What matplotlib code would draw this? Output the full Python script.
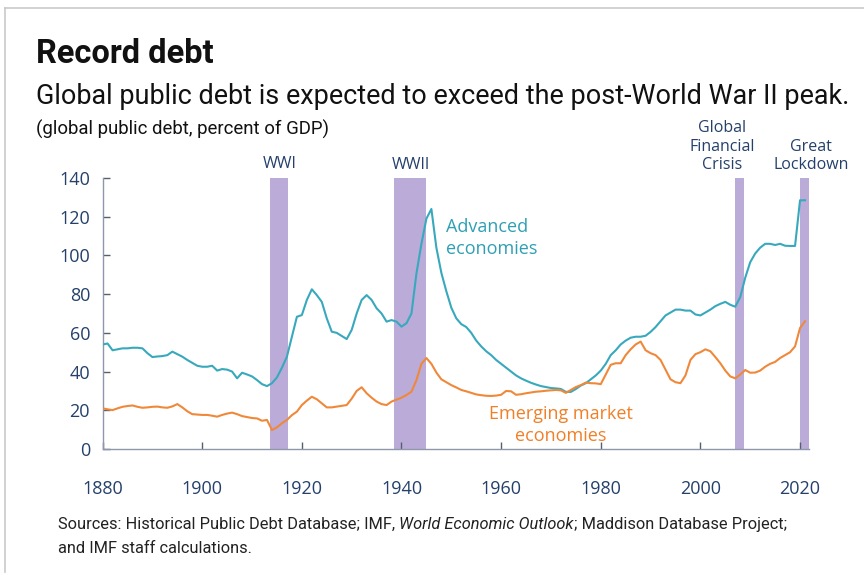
import matplotlib
matplotlib.use("Agg")
import matplotlib.pyplot as plt
from matplotlib import font_manager
from matplotlib.lines import Line2D

# ---------------- data ----------------
years = list(range(1880, 2022))
advanced = [
    54, 54.5, 51, 51.5, 52, 52, 52.3, 52.3, 52, 49.5,
    47.5, 47.8, 48, 48.5, 50.3, 49, 47.7, 46, 44.5, 43,
    42.5, 42.5, 43, 40.5, 41.3, 41, 40, 36.5, 39.4, 38.5,
    37.5, 35.6, 33.5, 32.5, 34, 37, 42, 47.7, 58, 68.3,
    69.2, 77, 82.5, 79.5, 76, 67.5, 60.6, 60, 58.4, 56.8,
    61.5, 70, 77, 79.5, 77, 72.7, 70, 65.8, 66.6, 65.8,
    63.2, 65, 70, 90.7, 106, 119, 124, 104, 91, 81.5,
    73, 67.5, 64.5, 63, 60, 56, 53, 50.5, 48.5, 46,
    44, 42, 40, 38, 36.5, 35.3, 34.2, 33.3, 32.5, 32,
    31.5, 31.3, 31, 29.5, 29.5, 31, 32.8, 34, 36, 38,
    40.5, 44, 48.5, 51, 54, 56, 57.5, 58, 58, 58.5,
    60.5, 63, 66, 69, 70.5, 72, 72, 71.5, 71.5, 69.5,
    69, 70.5, 72, 73.8, 75, 76, 74.5, 73.5, 78.5, 88.5,
    96.5, 101, 104, 106, 106, 105.4, 106, 105, 104.9, 104.9,
    128.5, 128.5,
]
emerging = [
    21, 20.5, 20.1, 21, 21.8, 22.2, 22.5, 21.8, 21.3, 21.5,
    21.8, 21.9, 21.5, 21.3, 22, 23.2, 21.5, 19.5, 18, 17.8,
    17.6, 17.6, 17.2, 16.7, 17.6, 18.3, 18.8, 18, 17, 16.5,
    16, 15.8, 14.6, 15, 9.8, 11.2, 13.3, 15, 17.5, 19.3,
    22.7, 25, 27, 25.7, 23.6, 21.5, 21.5, 21.9, 22.3, 22.7,
    26, 30, 31.9, 28.8, 26.5, 24.5, 23.2, 22.7, 24.5, 25.5,
    26.5, 27.9, 29.6, 35.6, 44, 47, 44, 39.5, 36, 34.5,
    33, 31.8, 30.5, 29.8, 29, 28.2, 27.8, 27.5, 27.4, 27.6,
    28, 30, 29.8, 28, 28.3, 28.8, 29.2, 29.6, 29.8, 30.1,
    30.3, 30.5, 30.3, 29, 30.5, 32, 33, 34.3, 34, 33.9,
    33.5, 38.5, 43.5, 44.3, 44.3, 48.5, 51.5, 54, 55.5, 51,
    49.5, 48.5, 46, 41, 36, 34.5, 34, 38, 46, 49,
    50, 51.5, 50.5, 47.5, 44.3, 40.5, 37.5, 36.5, 38.5, 40.8,
    39.4, 39.5, 40.5, 42.5, 44, 45, 47, 48.5, 50, 53,
    62.5, 66,
]
event_labels = ["WWI", "WWII", "Global\nFinancial\nCrisis", "Great\nLockdown"]
event_start = [1913.7, 1938.4, 2007.0, 2020.0]
event_end = [1917.3, 1945.0, 2008.7, 2021.8]
x_ticks = [1880, 1900, 1920, 1940, 1960, 1980, 2000, 2020]
y_ticks = [0, 20, 40, 60, 80, 100, 120, 140]

title = "Record debt"
subtitle = "Global public debt is expected to exceed the post-World War II peak."
units = "(global public debt, percent of GDP)"
source_runs = [
    ("Sources: Historical Public Debt Database; IMF, ", "normal"),
    ("World Economic Outlook", "italic"),
    ("; Maddison Database Project;", "normal"),
]
source_line2 = "and IMF staff calculations."

# ---------------- styling ----------------
W, H = 864, 576
names = {f.name for f in font_manager.fontManager.ttflist}
narrow = "Liberation Sans Narrow" if "Liberation Sans Narrow" in names else "Roboto"
chart_font = "Open Sans"

ADV = "#38a9bd"
EME = "#f0883a"
BAR = "#baabd9"
NAVY = "#24406b"
SPINE = "#8e98aa"

fig = plt.figure(figsize=(W / 100, H / 100), dpi=100)
fig.patch.set_facecolor("white")
renderer = fig.canvas.get_renderer()


def fx(px):
    return px / W


def fy(py):
    return 1 - py / H


# light frame (top and left edges)
fig.add_artist(Line2D([fx(5), 1], [fy(8), fy(8)], color="#c9c9c9", lw=1.2))
fig.add_artist(Line2D([fx(5), fx(5)], [fy(8), fy(572)], color="#c9c9c9", lw=1.2))


def fit_text(x, y, s, target_w, **kw):
    t = fig.text(fx(x), fy(y), s, va="baseline", ha="left", **kw)
    w = t.get_window_extent(renderer).width
    t.set_fontsize(t.get_fontsize() * target_w / w)
    return t


fit_text(36, 63, title, 178, fontsize=22, fontweight="bold", family=narrow, color="#111111")
fit_text(36, 104, subtitle, 812, fontsize=20, family=narrow, color="#111111")
fit_text(36, 135, units, 294, fontsize=13, family=narrow, color="#111111")

# sources (mixed italics)
src_size = 12
x = 58
texts = []
for s, st in source_runs:
    t = fig.text(fx(x), fy(529), s, va="baseline", ha="left", fontsize=src_size,
                 style=st, family=narrow, color="#222222")
    x += t.get_window_extent(renderer).width
    texts.append(t)
scale = (783 - 58) / (x - 58)
x = 58
for t in texts:
    t.set_fontsize(src_size * scale)
    t.set_x(fx(x))
    x += t.get_window_extent(renderer).width
fig.text(fx(58), fy(553), source_line2, va="baseline", ha="left",
         fontsize=src_size * scale, family=narrow, color="#222222")

# ---------------- axes ----------------
ax_left, ax_right, ax_top, ax_bottom = 102.6, 809, 178, 449
ax = fig.add_axes([fx(ax_left), fy(ax_bottom), (ax_right - ax_left) / W, (ax_bottom - ax_top) / H])
ax.set_xlim(1880, 2021.8)
ax.set_ylim(0, 140)

for s0, s1 in zip(event_start, event_end):
    ax.axvspan(s0, s1, ymin=0, ymax=1, color=BAR, lw=0, zorder=1)

ax.plot(years, advanced, color=ADV, lw=1.5, zorder=3, solid_joinstyle="round")
ax.plot(years, emerging, color=EME, lw=1.5, zorder=3, solid_joinstyle="round")

for side in ["top", "right"]:
    ax.spines[side].set_visible(False)
for side in ["left", "bottom"]:
    ax.spines[side].set_color(SPINE)
    ax.spines[side].set_linewidth(1.0)

ax.set_xticks(x_ticks)
ax.set_yticks(y_ticks)
ax.tick_params(axis="both", direction="in", length=5, width=1, color="#555f70",
               labelcolor=NAVY, labelsize=13)
ax.tick_params(axis="x", pad=22)
ax.tick_params(axis="y", pad=9)
for lab in ax.get_xticklabels() + ax.get_yticklabels():
    lab.set_family(chart_font)

# event labels
ev_kw = dict(ha="center", va="bottom", fontsize=11.5, color=NAVY, family=chart_font,
             clip_on=False, linespacing=1.2)
ax.text(1915.6, 143, event_labels[0], **ev_kw)
ax.text(1941.8, 142.5, event_labels[1], **ev_kw)
ax.text(2004.4, 142.5, event_labels[2], **ev_kw)
ax.text(2022.2, 142.5, event_labels[3], **ev_kw)

# series labels
ax.text(1949.0, 109, "Advanced\neconomies", ha="left", va="center", fontsize=13,
        color="#2f9fb3", family=chart_font, linespacing=1.3)
ax.text(1972.0, 12.5, "Emerging market\neconomies", ha="center", va="center", fontsize=13,
        color="#f07f26", family=chart_font, linespacing=1.3)

fig.savefig("out.png", dpi=100, facecolor="white")
